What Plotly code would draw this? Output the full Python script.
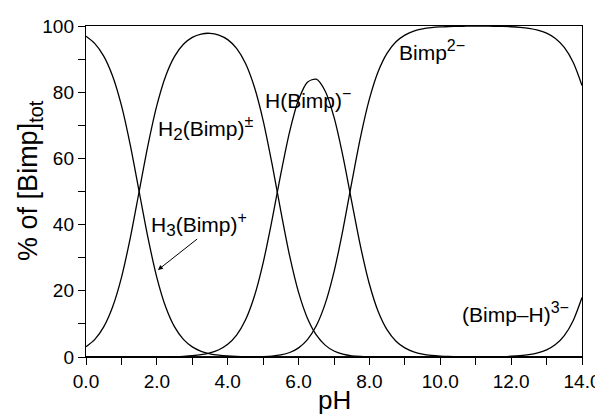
import plotly.graph_objects as go

ph = [0.0, 0.25, 0.5, 0.75, 1.0, 1.25, 1.5, 1.75, 2.0, 2.25, 2.5, 2.75, 3.0, 3.25, 3.5, 3.75,
      4.0, 4.25, 4.5, 4.75, 5.0, 5.25, 5.5, 5.75, 6.0, 6.25, 6.5, 6.75, 7.0, 7.25, 7.5, 7.75,
      8.0, 8.25, 8.5, 8.75, 9.0, 9.25, 9.5, 9.75, 10.0, 10.25, 10.5, 10.75, 11.0, 11.25, 11.5,
      11.75, 12.0, 12.25, 12.5, 12.75, 13.0, 13.25, 13.5, 13.75, 14.0]

h3_bimp = [96.9, 94.68, 90.9, 84.9, 76.0, 64.0, 50.0, 36.0, 24.0, 15.1, 9.09, 5.31, 3.05, 1.73,
           0.98, 0.55, 0.30, 0.17, 0.09, 0.05, 0.03, 0.02, 0.01,
           0, 0, 0, 0, 0, 0, 0, 0, 0, 0, 0, 0, 0, 0, 0, 0, 0, 0, 0, 0, 0, 0, 0, 0, 0, 0, 0, 0, 0,
           0, 0, 0, 0, 0]
h2_bimp = [3.07, 5.32, 9.09, 15.1, 24.0, 36.0, 50.0, 64.0, 76.0, 84.9, 90.8, 94.47, 96.56, 97.57,
           97.79, 97.27, 95.88, 93.23, 88.73, 81.64, 71.44, 58.39, 43.99, 30.45, 19.52, 11.73, 6.67,
           3.59, 1.82, 0.86, 0.37, 0.15, 0.06, 0.02, 0.01,
           0, 0, 0, 0, 0, 0, 0, 0, 0, 0, 0, 0, 0, 0, 0, 0, 0, 0, 0, 0, 0, 0]
h_bimp = [0, 0, 0, 0, 0, 0, 0.01, 0.02, 0.03, 0.06, 0.11, 0.21, 0.38, 0.69, 1.23, 2.18, 3.82,
          6.60, 11.17, 18.28, 28.45, 41.34, 55.38, 68.18, 77.72, 83.03, 83.93, 80.37, 72.46, 60.79,
          46.94, 33.34, 21.98, 13.68, 8.18, 4.77, 2.74, 1.56, 0.88, 0.50, 0.28, 0.16, 0.09, 0.05,
          0.03, 0.02, 0.01, 0, 0, 0, 0, 0, 0, 0, 0, 0, 0]
bimp = [0, 0, 0, 0, 0, 0, 0, 0, 0, 0, 0, 0, 0, 0, 0, 0, 0, 0,
        0.01, 0.04, 0.10, 0.26, 0.62, 1.36, 2.76, 5.24, 9.42, 16.04, 25.72, 38.36, 52.68, 66.51,
        77.97, 86.32, 91.81, 95.23, 97.26, 98.44, 99.12, 99.50, 99.72, 99.84, 99.9, 99.94, 99.95,
        99.94, 99.92, 99.87, 99.78, 99.61, 99.31, 98.78, 97.86, 96.25, 93.53, 89.04, 82.05]
bimp_h = [0, 0, 0, 0, 0, 0, 0, 0, 0, 0, 0, 0, 0, 0, 0, 0, 0, 0, 0, 0, 0, 0, 0, 0, 0, 0, 0, 0,
          0, 0, 0, 0, 0, 0, 0, 0, 0, 0, 0, 0, 0, 0, 0,
          0.01, 0.02, 0.04, 0.07, 0.12, 0.22, 0.39, 0.69, 1.22, 2.14, 3.75, 6.47, 10.96, 17.95]

x_ticks = [0, 2, 4, 6, 8, 10, 12, 14]
y_ticks = [0, 20, 40, 60, 80, 100]

FONT = "Liberation Sans"

fig = go.Figure()
for name, ys in [("H3(Bimp)+", h3_bimp), ("H2(Bimp)±", h2_bimp), ("H(Bimp)-", h_bimp),
                 ("Bimp2-", bimp), ("(Bimp-H)3-", bimp_h)]:
    fig.add_trace(go.Scatter(x=ph, y=ys, mode="lines", name=name,
                             line=dict(color="black", width=1.3, shape="spline", smoothing=0.8),
                             showlegend=False))


def sub(t):
    return f"<sub><span style='font-size:17px'>{t}</span></sub>"


def sup(t):
    return f"<sup><span style='font-size:16px'>{t}</span></sup>"


ann_font = dict(family=FONT, size=21, color="black")
annotations = [
    dict(x=2.0, y=69.0, text=f"H{sub('2')}(Bimp){sup('±')}"),
    dict(x=1.82, y=40.0, text=f"H{sub('3')}(Bimp){sup('+')}"),
    dict(x=5.02, y=78.0, text=f"H(Bimp){sup('−')}"),
    dict(x=8.8, y=92.5, text=f"Bimp{sup('2−')}"),
    dict(x=10.58, y=13.5, text=f"(Bimp–H){sup('3−')}"),
]
for a in annotations:
    fig.add_annotation(xref="x", yref="y", showarrow=False, font=ann_font,
                       xanchor="left", yanchor="middle", borderpad=0, **a)

# arrow pointing at H3(Bimp)+ curve
fig.add_annotation(xref="x", yref="y", x=2.03, y=26.3, ax=3.18, ay=36.0,
                   axref="x", ayref="y", text="", showarrow=True,
                   arrowhead=2, arrowsize=1.0, arrowwidth=1, arrowcolor="black")

# axis titles
fig.add_annotation(xref="paper", yref="paper", x=0.5, y=0, xanchor="center", yanchor="middle",
                   yshift=-43, showarrow=False, text="pH",
                   font=dict(family=FONT, size=26, color="black"))
fig.add_annotation(xref="paper", yref="paper", x=0, y=0.532, xanchor="center", yanchor="middle",
                   xshift=-56, textangle=-90, showarrow=False,
                   text="% of [Bimp]<sub><span style='font-size:20px'>tot</span></sub>",
                   font=dict(family=FONT, size=27, color="black"))

fig.update_layout(
    width=595, height=407,
    margin=dict(l=78, r=21, t=18, b=58),
    plot_bgcolor="white", paper_bgcolor="white",
    font=dict(family=FONT, color="black"),
)
fig.update_xaxes(
    range=[0, 14], tickvals=x_ticks, ticktext=[f"{v:.1f}" for v in x_ticks],
    ticks="outside", ticklen=7, tickwidth=1.2, tickcolor="black",
    minor=dict(dtick=1, tick0=0, ticks="outside", ticklen=7, tickwidth=1.2, tickcolor="black"),
    showline=True, linecolor="black", linewidth=1.4, mirror=True,
    showgrid=False, zeroline=False, automargin=False,
    tickfont=dict(size=19, family=FONT),
)
fig.update_yaxes(
    range=[0, 100], tickvals=y_ticks,
    ticks="outside", ticklen=7, tickwidth=1.2, tickcolor="black",
    minor=dict(dtick=10, tick0=0, ticks="outside", ticklen=7, tickwidth=1.2, tickcolor="black"),
    showline=True, linecolor="black", linewidth=1.4, mirror=True,
    showgrid=False, zeroline=False, automargin=False,
    tickfont=dict(size=19, family=FONT),
)

fig.write_html("out.html")
